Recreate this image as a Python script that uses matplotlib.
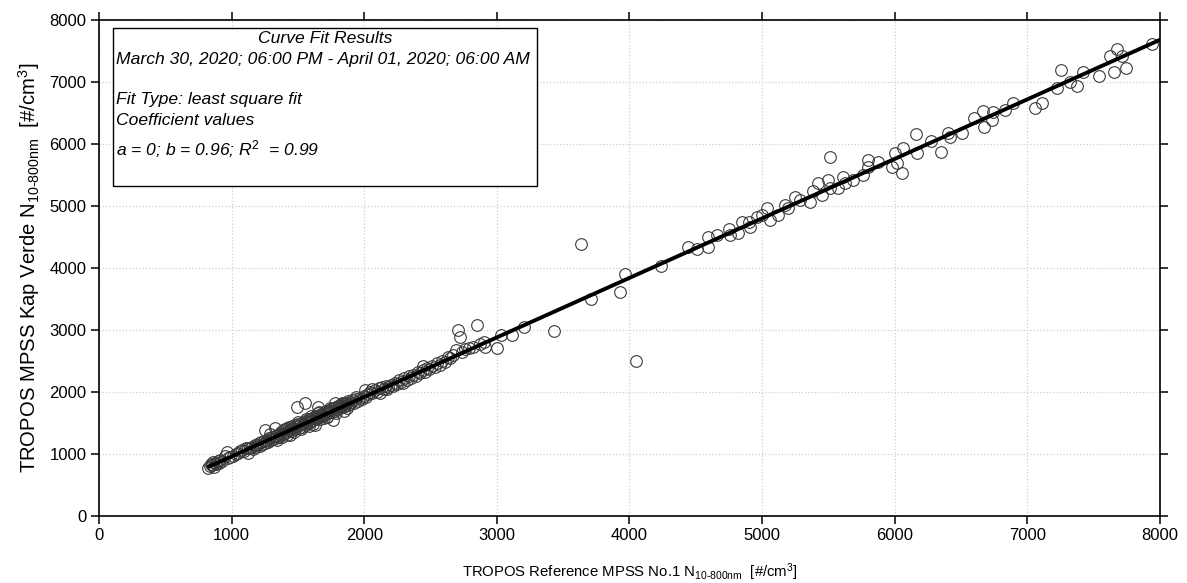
import matplotlib
matplotlib.use("Agg")
import matplotlib.pyplot as plt
from matplotlib.patches import Rectangle

plt.rcParams['font.family'] = ['Liberation Sans', 'DejaVu Sans']
plt.rcParams['mathtext.fontset'] = 'custom'
plt.rcParams['mathtext.rm'] = 'Liberation Sans'
plt.rcParams['mathtext.it'] = 'Liberation Sans:italic'

# Reference MPSS No.1 (x) vs Kap Verde MPSS (y), #/cm3
ref_x = [825, 835, 842, 850, 860, 868, 875, 885, 895, 905, 915, 930, 950, 965, 975, 990,
         1010, 1030, 1050, 1065, 1080, 1095, 1110, 1120, 1125, 1140, 1150, 1160, 1175, 1185,
         1195, 1205, 1215, 1225, 1235, 1245, 1250, 1255, 1265, 1275, 1285, 1290, 1295, 1305,
         1315, 1325, 1330, 1335, 1345, 1355, 1360, 1370, 1375, 1385, 1390, 1400, 1405, 1415,
         1420, 1430, 1440, 1445, 1450, 1455, 1465, 1470, 1480, 1490, 1495, 1500, 1505, 1515,
         1520, 1530, 1540, 1550, 1555, 1560, 1570, 1575, 1585, 1590, 1600, 1605, 1615, 1620,
         1630, 1635, 1640, 1650, 1655, 1660, 1665, 1675, 1680, 1690, 1695, 1705, 1710, 1720,
         1725, 1735, 1740, 1750, 1760, 1765, 1770, 1780, 1785, 1795, 1800, 1810, 1815, 1825,
         1830, 1840, 1850, 1855, 1865, 1875, 1880, 1890, 1900, 1910, 1920, 1935, 1950, 1965,
         1980, 1995, 2005, 2015, 2030, 2045, 2060, 2080, 2095, 2110, 2120, 2135, 2150, 2165,
         2180, 2200, 2215, 2230, 2250, 2265, 2280, 2300, 2320, 2335, 2350, 2370, 2390, 2405,
         2420, 2440, 2455, 2470, 2490, 2510, 2530, 2550, 2570, 2590, 2610, 2630, 2650, 2670,
         2690, 2705, 2720, 2740, 2760, 2790, 2820, 2850, 2870, 2900, 2910, 3000, 3030, 3115,
         3205, 3430, 3635, 3710, 3930, 3965, 4050, 4240, 4440, 4510, 4595, 4595, 4660, 4750,
         4760, 4820, 4850, 4900, 4910, 4960, 5000, 5040, 5060, 5120, 5175, 5195, 5250, 5285,
         5360, 5385, 5420, 5450, 5500, 5510, 5515, 5575, 5610, 5625, 5685, 5760, 5800, 5800,
         5875, 5980, 6005, 6020, 6055, 6065, 6170, 6160, 6275, 6350, 6400, 6420, 6510, 6600,
         6665, 6675, 6735, 6740, 6830, 6890, 7060, 7110, 7225, 7255, 7320, 7375, 7420, 7540,
         7625, 7655, 7675, 7715, 7745, 7940,
         1380, 1430, 1470, 1520, 1560, 1610, 1650, 1700, 1740, 1790, 1830, 1870, 1420, 1500,
         1580, 1660, 1720, 1780, 1850, 1940, 2060, 2170, 2290, 2440, 1340, 1600]
kv_y = [770, 800, 840, 815, 870, 790, 850, 830, 880, 860, 900, 880, 960, 1030, 930, 950,
        975, 1000, 1010, 1040, 1060, 1045, 1090, 1020, 1100, 1095, 1120, 1080, 1140, 1110,
        1150, 1170, 1130, 1190, 1160, 1210, 1380, 1180, 1230, 1200, 1250, 1330, 1220, 1270,
        1240, 1420, 1290, 1260, 1310, 1280, 1330, 1300, 1350, 1320, 1380, 1340, 1400, 1360,
        1420, 1380, 1310, 1400, 1440, 1370, 1420, 1460, 1410, 1450, 1750, 1480, 1420, 1470,
        1500, 1440, 1490, 1530, 1820, 1470, 1520, 1550, 1500, 1560, 1530, 1580, 1550, 1600,
        1470, 1570, 1620, 1590, 1760, 1630, 1560, 1610, 1650, 1620, 1670, 1640, 1690, 1600,
        1660, 1700, 1670, 1720, 1680, 1550, 1740, 1700, 1760, 1720, 1770, 1740, 1790, 1750,
        1800, 1760, 1810, 1780, 1830, 1790, 1850, 1810, 1840, 1870, 1830, 1880, 1860, 1900,
        1890, 1930, 2030, 1920, 1960, 2000, 1980, 2030, 2000, 2060, 1980, 2080, 2050, 2100,
        2080, 2120, 2090, 2150, 2130, 2190, 2160, 2220, 2190, 2250, 2230, 2280, 2260, 2330,
        2300, 2350, 2320, 2390, 2370, 2420, 2400, 2460, 2440, 2500, 2490, 2560, 2540, 2600,
        2680, 3000, 2890, 2640, 2700, 2710, 2720, 3080, 2780, 2810, 2730, 2710, 2920, 2920,
        3050, 2980, 4390, 3500, 3610, 3900, 2500, 4030, 4340, 4310, 4500, 4340, 4530, 4630,
        4530, 4565, 4740, 4740, 4660, 4820, 4855, 4970, 4775, 4855, 5015, 4970, 5145, 5100,
        5065, 5240, 5370, 5180, 5420, 5790, 5290, 5290, 5470, 5370, 5420, 5500, 5740, 5630,
        5710, 5630, 5850, 5695, 5530, 5935, 5855, 6160, 6050, 5870, 6175, 6115, 6180, 6420,
        6530, 6275, 6390, 6515, 6550, 6660, 6580, 6660, 6900, 7195, 7000, 6935, 7160, 7100,
        7420, 7160, 7530, 7420, 7225, 7610,
        1270, 1440, 1350, 1400, 1560, 1480, 1660, 1580, 1740, 1660, 1820, 1740, 1300, 1520,
        1450, 1680, 1590, 1820, 1700, 1920, 2040, 2040, 2150, 2420, 1220, 1620]

# least square fit: y = a + b*x
fit_a = 0.0
fit_b = 0.96
fit_x = [830, 8000]
fit_y = [fit_a + fit_b * v for v in fit_x]

fig = plt.figure(figsize=(11.87, 5.83), dpi=100)
ax = fig.add_axes([0.0834, 0.115, 0.8938, 0.8507])

ax.plot(ref_x, kv_y, linestyle='none', marker='o', markersize=8.4,
        markerfacecolor='none', markeredgecolor='#3a3a3a', markeredgewidth=0.8, zorder=3)
ax.plot(fit_x, fit_y, color='black', linewidth=2.8, zorder=4)

ax.set_xlim(0, 8000)
ax.set_ylim(0, 8000)
ax.set_xticks(range(0, 8001, 1000))
ax.set_yticks(range(0, 8001, 1000))
ax.grid(True, color='#cfcfcf', linestyle=':', linewidth=0.9)
ax.set_axisbelow(True)
for s in ax.spines.values():
    s.set_linewidth(1.2)
ax.tick_params(axis='both', which='major', direction='out', length=6, width=1.1,
               labelsize=12, top=True, right=True, labeltop=False, labelright=False, pad=3)

ax.set_xlabel(r'TROPOS Reference MPSS No.1 N$_{\mathrm{10\text{-}800nm}}$  [#/cm$^{\mathrm{3}}$]',
              fontsize=10.7, labelpad=13)
ax.set_ylabel(r'TROPOS MPSS Kap Verde N$_{\mathrm{10\text{-}800nm}}$  [#/cm$^{\mathrm{3}}$]',
              fontsize=14.6, labelpad=5)

# fit results box
box = Rectangle((0.013, 0.665), 0.400, 0.319, transform=ax.transAxes,
                facecolor='white', edgecolor='black', linewidth=1.0, zorder=5)
ax.add_patch(box)
tk = dict(transform=ax.transAxes, fontsize=12.6, style='italic', zorder=6, va='center')
ax.text(0.213, 0.962, 'Curve Fit Results', ha='center', **tk)
ax.text(0.016, 0.921, 'March 30, 2020; 06:00 PM - April 01, 2020; 06:00 AM', ha='left', **tk)
ax.text(0.016, 0.839, 'Fit Type: least square fit', ha='left', **tk)
ax.text(0.016, 0.797, 'Coefficient values', ha='left', **tk)
ax.text(0.016, 0.740, r'a = 0; b = 0.96; R$^{\mathrm{2}}$  = 0.99', ha='left', **tk)

fig.savefig('out.png', dpi=100)
